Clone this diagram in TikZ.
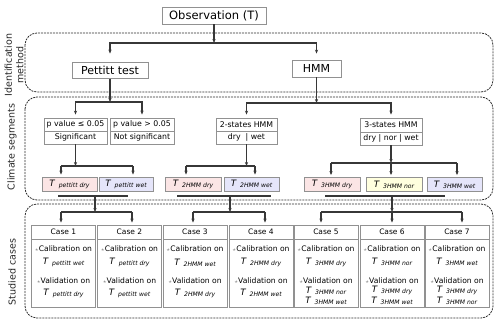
\documentclass[tikz,border=0pt]{standalone}
\usepackage{fontspec}
\setmainfont{DejaVu Sans}
\usetikzlibrary{arrows.meta}
\definecolor{cline}{RGB}{55,55,55}
\definecolor{cbord}{RGB}{145,145,145}
\definecolor{cdash}{RGB}{45,45,45}
\definecolor{cdry}{RGB}{251,229,229}
\definecolor{cwet}{RGB}{229,229,250}
\definecolor{cnor}{RGB}{255,255,222}
\newcommand{\Tv}[1]{{\fontsize{8.8}{9}\selectfont\itshape T}\hspace{4pt}\raisebox{-1pt}{\fontsize{6.1}{7}\selectfont\itshape #1}}
\newcommand{\bul}{\raisebox{0.8pt}{\textcolor{gray}{\fontsize{6}{6}\selectfont$\star$}}}
\begin{document}
\begin{tikzpicture}[x=1pt,y=-1pt,
  ln/.style={draw=cline, line width=1.1pt},
  arr/.style={ln, -{Stealth[length=4pt,width=3.2pt]}},
  dbox/.style={draw=cdash, line width=0.8pt, dash pattern=on 2pt off 1pt, rounded corners=12pt},
  gbox/.style={draw=cbord, line width=0.8pt, fill=white, inner sep=0pt},
  side/.style={rotate=90, font=\fontsize{9.5}{11.5}\selectfont, align=center, text=black!85},
  small/.style={font=\fontsize{7.8}{9}\selectfont},
  tbox/.style={gbox, minimum height=14pt},
  casehead/.style={gbox, minimum width=64pt, minimum height=14pt, font=\fontsize{7.5}{9}\selectfont},
  casebody/.style={gbox, minimum width=64pt, minimum height=68pt},
  cl/.style={inner sep=0pt, font=\fontsize{7.6}{9}\selectfont}
]
\useasboundingbox (0,0) rectangle (500,324);

% dashed group frames
\draw[dbox] (25,33) rectangle (493,92);
\draw[dbox] (25,97) rectangle (493,200);
\draw[dbox] (25,204) rectangle (493,318);

% side labels
\node[side] (lid) at (14,65) {Identification\\method};
\node[side] (lcs) at (12,147) {Climate segments};
\node[side] (lsc) at (12,272) {Studied cases};

% top
\node[gbox, minimum width=104pt, minimum height=17pt, font=\fontsize{11.5}{13}\selectfont] (obs) at (214,15.5) {Observation (T)};
\node[gbox, minimum width=76pt, minimum height=16pt, font=\fontsize{11}{13}\selectfont] (pet) at (110,70.5) {Pettitt test};
\node[gbox, minimum width=49pt, minimum height=17pt, font=\fontsize{11}{13}\selectfont] (hmm) at (316.5,68.5) {HMM};

\coordinate (j1) at (214,43);
\draw[arr] (obs.south) -- (j1);
\draw[arr, shorten >=8.5pt] (j1) -| (pet.north);
\draw[arr, shorten >=6pt] (j1) -| (hmm.north);

% climate segments
\node[gbox, small, minimum width=63pt, minimum height=13pt] (pv1) at (75.5,124.5) {p value ≤ 0.05};
\node[gbox, small, minimum width=63pt, minimum height=13pt] (sig) at (75.5,137.5) {Significant};
\node[gbox, small, minimum width=64pt, minimum height=13pt] (pv2) at (142,124.5) {p value > 0.05};
\node[gbox, small, minimum width=64pt, minimum height=13pt] (nsig) at (142,137.5) {Not significant};

\node[gbox, small, minimum width=61pt, minimum height=13pt] (hm2) at (246.5,124.5) {2-states HMM};
\node[gbox, small, minimum width=61pt, minimum height=13pt] (hm2b) at (246.5,137.5) {dry\hspace{5pt}| wet};
\node[gbox, small, minimum width=62pt, minimum height=14pt] (hm3) at (391,125) {3-states HMM};
\node[gbox, small, minimum width=62pt, minimum height=13pt] (hm3b) at (391,138.5) {dry | nor | wet};

\coordinate (j2) at (110,102);
\draw[arr] (pet.south) -- (j2);
\draw[arr, shorten >=3pt] (j2) -| (pv1.north);
\draw[arr, shorten >=3pt] (j2) -| (pv2.north);

\coordinate (j3) at (316.5,103);
\draw[arr] (hmm.south) -- (j3);
\draw[arr, shorten >=3pt] (j3) -| (hm2.north);
\draw[arr, shorten >=3pt] (j3) -| (hm3.north);

% T boxes
\node[tbox, fill=cdry, minimum width=55pt] (tpd) at (69.5,184) {\Tv{pettitt dry}};
\node[tbox, fill=cwet, minimum width=54pt] (tpw) at (126,184) {\Tv{pettitt wet}};
\node[tbox, fill=cdry, minimum width=56pt] (t2d) at (193,184) {\Tv{2HMM dry}};
\node[tbox, fill=cwet, minimum width=55pt] (t2w) at (251.5,184) {\Tv{2HMM wet}};
\node[tbox, fill=cdry, minimum width=56pt] (t3d) at (332,184.5) {\Tv{3HMM dry}};
\node[tbox, fill=cnor, minimum width=56pt] (t3n) at (394,184.5) {\Tv{3HMM nor}};
\node[tbox, fill=cwet, minimum width=55pt] (t3w) at (454.5,184.5) {\Tv{3HMM wet}};

% split significant
\coordinate (j4) at (75.5,166);
\coordinate (j4l) at (61,166);
\coordinate (j4r) at (133,166);
\draw[arr] (sig.south) -- (j4);
\draw[ln] (j4l) -- (j4r);
\draw[arr, shorten >=2pt] (j4l) -- (j4l |- tpd.north);
\draw[arr, shorten >=2pt] (j4r) -- (j4r |- tpw.north);

% split 2HMM
\coordinate (j5) at (246.5,166);
\coordinate (j5l) at (186,166);
\coordinate (j5r) at (255,166);
\draw[arr] (hm2b.south) -- (j5);
\draw[ln] (j5l) -- (j5r);
\draw[arr, shorten >=2pt] (j5l) -- (j5l |- t2d.north);
\draw[arr, shorten >=2pt] (j5r) -- (j5r |- t2w.north);

% split 3HMM
\coordinate (j6) at (391,163);
\coordinate (j6l) at (331,163);
\coordinate (j6r) at (457,163);
\draw[arr] (hm3b.south) -- (j6);
\draw[ln] (j6l) -- (j6r);
\draw[arr, shorten >=2pt] (j6l) -- (j6l |- t3d.north);
\draw[arr, shorten >=2pt] (j6) -- (j6 |- t3n.north);
\draw[arr, shorten >=2pt] (j6r) -- (j6r |- t3w.north);

% collecting lines
\coordinate (u1a) at (58,196);   \coordinate (u1b) at (128,196);  \coordinate (u1m) at (95,196);
\coordinate (u2a) at (177,196);  \coordinate (u2b) at (271,196);  \coordinate (u2m) at (230,196);
\coordinate (u3a) at (325,196);  \coordinate (u3b) at (445,196);  \coordinate (u3m) at (392,196);
\draw[ln] (u1a) -- (u1b);
\draw[ln] (u2a) -- (u2b);
\draw[ln] (u3a) -- (u3b);

% cases
\foreach \n/\x in {1/63.5,2/129.5,3/195,4/261,5/326,6/392,7/457}{
  \node[casehead] (c\n h) at (\x,232) {Case \n};
  \node[casebody] (c\n b) at (\x,273) {};
  \node[cl] (c\n cal) at (\x,249) {\bul Calibration on};
  \node[cl] (c\n val) at (\x,281) {\bul Validation on};
}
\node[cl] (c1ct) at (c1b |- 0,262.5) {\Tv{pettitt wet}};
\node[cl] (c1vt) at (c1b |- 0,293) {\Tv{pettitt dry}};
\node[cl] (c2ct) at (c2b |- 0,262.5) {\Tv{pettitt dry}};
\node[cl] (c2vt) at (c2b |- 0,293) {\Tv{pettitt wet}};
\node[cl] (c3ct) at (c3b |- 0,262.5) {\Tv{2HMM wet}};
\node[cl] (c3vt) at (c3b |- 0,293) {\Tv{2HMM dry}};
\node[cl] (c4ct) at (c4b |- 0,262.5) {\Tv{2HMM dry}};
\node[cl] (c4vt) at (c4b |- 0,293) {\Tv{2HMM wet}};
\node[cl] (c5ct) at (c5b |- 0,262) {\Tv{3HMM dry}};
\node[cl] (c5vt) at (c5b |- 0,290.5) {\Tv{3HMM nor}};
\node[cl] (c5vu) at (c5b |- 0,301) {\Tv{3HMM wet}};
\node[cl] (c6ct) at (c6b |- 0,262) {\Tv{3HMM nor}};
\node[cl] (c6vt) at (c6b |- 0,290.5) {\Tv{3HMM dry}};
\node[cl] (c6vu) at (c6b |- 0,301) {\Tv{3HMM wet}};
\node[cl] (c7ct) at (c7b |- 0,262) {\Tv{3HMM wet}};
\node[cl] (c7vt) at (c7b |- 0,290.5) {\Tv{3HMM dry}};
\node[cl] (c7vu) at (c7b |- 0,301) {\Tv{3HMM nor}};

% splits to cases
\coordinate (k1) at (95,212);  \coordinate (k1l) at (61,212);  \coordinate (k1r) at (132,212);
\coordinate (k2) at (230,212); \coordinate (k2l) at (193,212); \coordinate (k2r) at (265,212);
\coordinate (k3) at (392,212); \coordinate (k3l) at (321,212); \coordinate (k3r) at (462,212);
\draw[arr] (u1m) -- (k1);
\draw[arr] (u2m) -- (k2);
\draw[arr] (u3m) -- (k3);
\draw[ln] (k1l) -- (k1r);
\draw[ln] (k2l) -- (k2r);
\draw[ln] (k3l) -- (k3r);
\draw[arr, shorten >=2pt] (k1l) -- (k1l |- c1h.north);
\draw[arr, shorten >=2pt] (k1r) -- (k1r |- c2h.north);
\draw[arr, shorten >=2pt] (k2l) -- (k2l |- c3h.north);
\draw[arr, shorten >=2pt] (k2r) -- (k2r |- c4h.north);
\draw[arr, shorten >=2pt] (k3l) -- (k3l |- c5h.north);
\draw[arr, shorten >=2pt] (k3) -- (k3 |- c6h.north);
\draw[arr, shorten >=2pt] (k3r) -- (k3r |- c7h.north);
\end{tikzpicture}
\end{document}
